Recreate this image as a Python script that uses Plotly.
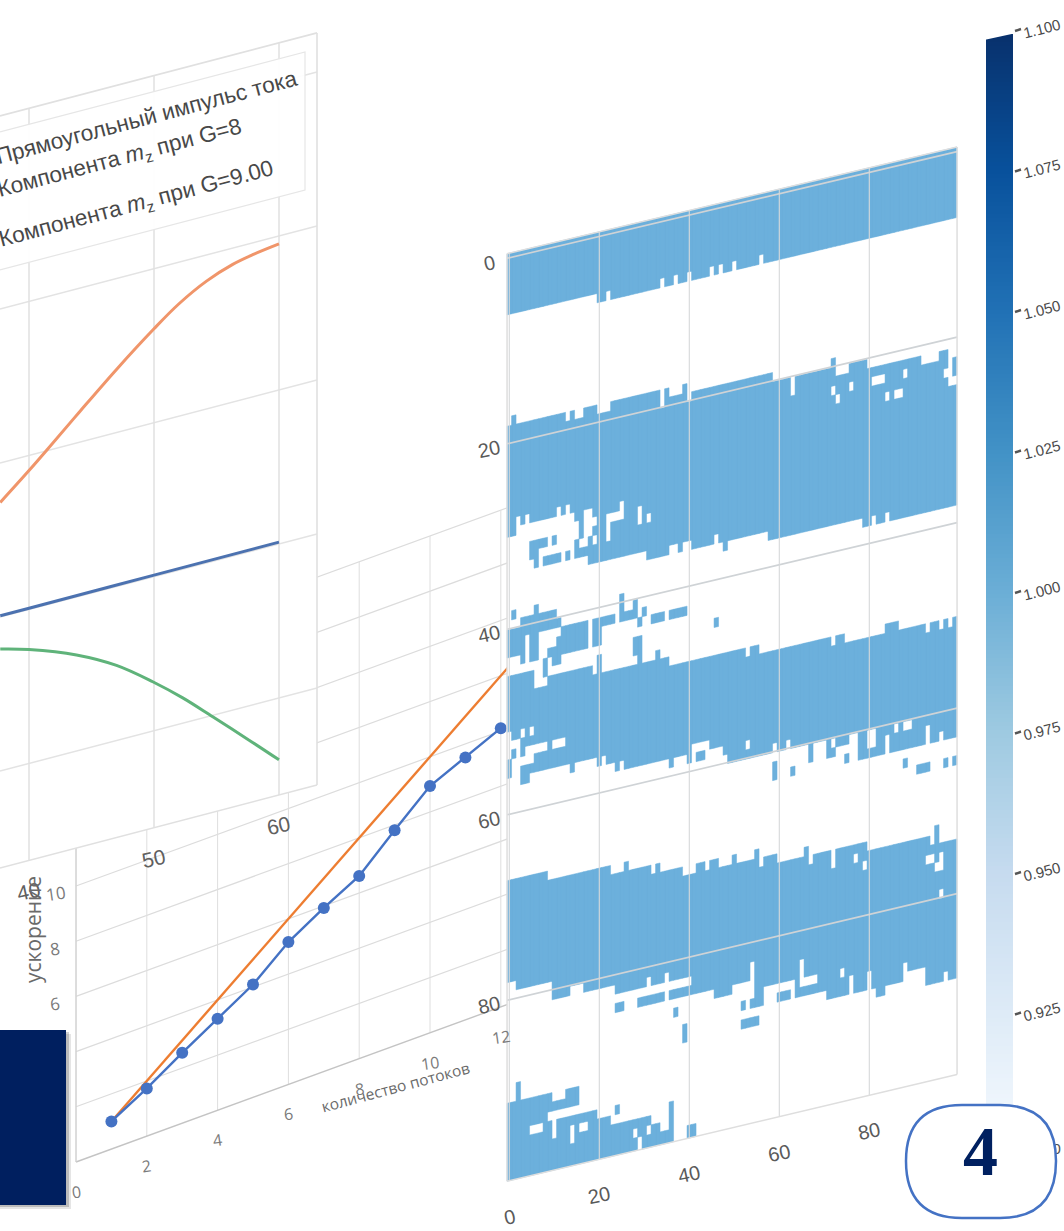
import numpy as np
import plotly.graph_objects as go

# ---------- data: left line chart ----------
ORANGE_X = [37.7, 40, 41.5, 44, 47, 50, 52, 54.2, 56.3, 58, 60]
ORANGE_V = [-0.128, -0.049, 0.005, 0.097, 0.205, 0.305, 0.365, 0.415, 0.447, 0.462, 0.474]
BLUE_X = [37.7, 40, 50, 60]
BLUE_V = [-0.496, -0.496, -0.495, -0.494]
GREEN_X = [37.7, 40, 43.8, 47, 49.9, 52.3, 54.7, 57.7, 60]
GREEN_V = [-0.604, -0.630, -0.688, -0.756, -0.840, -0.918, -1.005, -1.115, -1.201]
P1_XTICKS = [40, 50, 60]
P1_VGRID = [1.0, 0.5, 0.0, -0.5, -1.0]
LEGEND_LINES = ["Прямоугольный импульс тока",
                "Компонента <i>m</i><sub>z</sub> при G=8",
                "Компонента <i>m</i><sub>z</sub> при G=9.00"]

# ---------- data: speed-up chart ----------
THREADS = [1, 2, 3, 4, 5, 6, 7, 8, 9, 10, 11, 12]
SPEEDUP = [1.0, 1.73, 2.55, 3.32, 4.09, 5.16, 5.93, 6.62, 7.81, 8.94, 9.51, 10.1]
IDEAL_T = [1, 13]
IDEAL_S = [1, 13]
P2_XTICKS = [0, 2, 4, 6, 8, 10, 12]
P2_YGRID = [2, 4, 6, 8, 10, 12, 14, 16, 18]
P2_YLABELS = [6, 8, 10]

# ---------- data: heat map (row-edge runs per column: first col, last col, edge) ----------
A_TOP = [(0, 99, -1)]
A_BOT = [(0, 19, 6), (20, 21, 7), (22, 22, 6), (23, 33, 7), (34, 34, 6), (35, 36, 7), (37, 37, 6),
         (38, 39, 7), (40, 40, 6), (41, 44, 7), (45, 45, 6), (46, 46, 7), (47, 47, 6), (48, 49, 7),
         (50, 50, 6), (51, 55, 7), (56, 56, 6), (57, 99, 7)]
B_TOP = [(0, 0, 18), (1, 1, 17), (2, 12, 18), (13, 13, 19), (14, 14, 18), (15, 16, 19), (17, 19, 18),
         (20, 22, 19), (23, 33, 18), (34, 34, 20), (35, 35, 18), (36, 38, 19), (39, 39, 18), (40, 40, 20),
         (41, 58, 19), (59, 71, 20), (72, 72, 19), (73, 75, 21), (76, 79, 20), (80, 91, 21), (92, 95, 22),
         (96, 97, 21), (98, 98, 25), (99, 99, 22)]
B_BOT = [(0, 1, 30), (2, 2, 28), (3, 3, 29), (4, 4, 28), (5, 10, 29), (11, 11, 28), (12, 12, 29),
         (13, 13, 28), (14, 14, 29), (15, 15, 30), (16, 16, 32), (17, 18, 29), (19, 19, 30), (20, 30, 35),
         (31, 35, 36), (36, 37, 35), (38, 38, 36), (39, 40, 35), (41, 45, 36), (46, 46, 35), (47, 47, 36),
         (48, 48, 37), (49, 57, 36), (58, 78, 37), (79, 80, 38), (81, 81, 37), (82, 83, 38), (84, 84, 37),
         (85, 99, 38)]
C_TOP = [(0, 5, 45), (6, 8, 47), (9, 18, 46), (19, 19, 47), (20, 20, 45), (21, 32, 47), (33, 33, 46),
         (34, 35, 47), (36, 52, 48), (53, 53, 49), (54, 55, 48), (56, 71, 49), (72, 72, 50), (73, 74, 49),
         (75, 83, 50), (84, 86, 49), (87, 92, 50), (93, 93, 51), (94, 95, 50), (96, 96, 51), (97, 97, 50),
         (98, 98, 51), (99, 99, 50)]
C_BOT = [(0, 0, 56), (1, 2, 54), (3, 4, 57), (5, 13, 56), (14, 14, 57), (15, 19, 56), (20, 23, 57),
         (24, 39, 58), (40, 48, 59), (49, 80, 60), (81, 99, 63)]
D_TOP = [(0, 8, 67), (9, 22, 68), (23, 25, 69), (26, 26, 68), (27, 31, 69), (32, 32, 70), (33, 33, 69),
         (34, 38, 70), (39, 41, 71), (42, 43, 70), (44, 44, 71), (45, 46, 70), (47, 49, 71), (50, 50, 70),
         (51, 54, 71), (55, 55, 70), (56, 56, 72), (57, 59, 71), (60, 65, 72), (66, 66, 71), (67, 67, 73),
         (68, 71, 72), (72, 72, 74), (73, 79, 72), (80, 93, 73), (94, 94, 74), (95, 95, 72), (96, 99, 74)]
D_BOT = [(0, 1, 78), (2, 9, 79), (10, 13, 81), (14, 16, 80), (17, 23, 81), (24, 34, 82), (35, 35, 81),
         (36, 45, 84), (46, 49, 85), (50, 54, 84), (55, 56, 87), (57, 59, 85), (60, 62, 87), (63, 63, 85),
         (64, 70, 87), (71, 79, 88), (80, 80, 86), (81, 81, 88), (82, 83, 89), (84, 87, 88), (88, 88, 86),
         (89, 92, 87), (93, 99, 89)]
E_TOP = [(0, 9, 91), (10, 12, 92), (13, 15, 91), (16, 19, 94), (20, 22, 95), (23, 31, 96), (32, 33, 97),
         (34, 35, 98), (36, 36, 95)]
E_BOT = [(0, 36, 100)]
# isolated cells: (first col, last col, first row, last row)
WHITE_CELLS = [(63, 63, 20, 21), (72, 72, 22, 22), (73, 73, 23, 23), (76, 76, 22, 22), (81, 83, 22, 22),
               (88, 88, 22, 22), (84, 84, 24, 24), (86, 87, 24, 24), (97, 97, 23, 23), (99, 99, 24, 24),
               (22, 22, 30, 32), (23, 24, 30, 30), (25, 25, 29, 30), (29, 29, 30, 31), (31, 31, 31, 31),
               (0, 0, 51, 53), (1, 2, 52, 52), (2, 2, 53, 53), (3, 3, 51, 51), (5, 5, 51, 51),
               (4, 8, 53, 53), (10, 12, 53, 53), (3, 5, 54, 54), (41, 44, 57, 57), (44, 47, 58, 58),
               (41, 41, 58, 58), (53, 53, 58, 58), (21, 21, 56, 56), (25, 25, 57, 57), (59, 59, 59, 59),
               (62, 62, 59, 59), (84, 84, 61, 62), (86, 86, 60, 60), (88, 89, 60, 60), (93, 93, 61, 62),
               (96, 96, 62, 62), (81, 81, 60, 61), (77, 77, 73, 73), (79, 79, 74, 74), (93, 94, 75, 75),
               (96, 96, 75, 76), (95, 95, 76, 76), (96, 96, 79, 79), (54, 54, 82, 83), (65, 65, 83, 84),
               (65, 68, 85, 85), (74, 74, 85, 85), (76, 76, 86, 87), (60, 62, 85, 85), (31, 31, 81, 81),
               (36, 40, 82, 82), (97, 97, 88, 88), (5, 7, 94, 94), (9, 15, 93, 93), (10, 10, 94, 95),
               (14, 14, 95, 96), (16, 17, 95, 95), (29, 29, 98, 99), (31, 31, 97, 97), (28, 28, 97, 97)]
BLUE_CELLS = [(5, 8, 31, 31), (5, 6, 32, 32), (10, 10, 31, 31), (6, 6, 33, 33), (8, 11, 33, 33), (13, 13, 33, 33),
              (15, 15, 32, 33), (16, 17, 33, 33), (18, 18, 32, 34), (19, 19, 31, 31), (19, 19, 33, 34),
              (1, 1, 38, 38), (6, 6, 38, 38), (3, 10, 39, 40), (0, 3, 40, 42), (4, 4, 40, 40), (5, 6, 40, 43),
              (3, 3, 43, 43), (11, 11, 40, 40), (9, 9, 43, 43), (8, 8, 44, 45), (11, 11, 42, 44), (10, 10, 43, 44),
              (12, 17, 41, 43), (19, 20, 41, 43), (21, 23, 41, 41), (25, 25, 39, 41), (26, 27, 41, 41),
              (28, 28, 40, 41), (30, 30, 41, 41), (29, 29, 42, 42), (32, 34, 42, 42), (36, 39, 42, 42),
              (46, 46, 44, 44), (28, 28, 44, 45), (29, 29, 44, 46), (36, 36, 58, 58),
              (67, 67, 60, 61), (71, 71, 60, 61), (73, 75, 60, 60), (72, 72, 61, 61), (75, 75, 62, 62),
              (78, 79, 60, 62), (80, 80, 62, 62), (59, 59, 61, 62), (63, 63, 62, 62), (88, 88, 64, 64),
              (91, 93, 65, 65), (97, 97, 65, 65), (99, 99, 65, 65),
              (29, 34, 83, 83), (24, 25, 83, 83), (37, 37, 85, 85), (39, 39, 87, 88), (52, 52, 86, 86),
              (54, 54, 86, 86), (52, 55, 88, 88), (2, 2, 89, 90), (24, 24, 94, 94), (40, 41, 98, 99)]
HM_TICKS = [0, 20, 40, 60, 80]
CB_TICKS = [1.100, 1.075, 1.050, 1.025, 1.000, 0.975, 0.950, 0.925]
CB_HIDDEN_TICK = 0.900
BLUES = ["#f7fbff", "#deebf7", "#c6dbef", "#9ecae1", "#6baed6", "#4292c6", "#2171b5", "#08519c", "#08306b"]

# ---------- projections of each tilted panel onto the page ----------
def p1(x, v):
    X = 29 + 12.5 * (np.asarray(x, float) - 40)
    return X, 380 - 308 * np.asarray(v, float) + 0.262 * (317 - X)

def p2(t, s):
    X = 76 + 35.4 * np.asarray(t, float)
    return X, 1162 - 27.6 * np.asarray(s, float) - 0.365 * (X - 76)

def hm(c, r):
    c = np.asarray(c, float)
    return 509.3 + 4.5 * c, 257.8 + 9.275 * np.asarray(r, float) - 1.067 * c

def cb_y(v):
    return 30 + (1.1 - v) / 0.025 * 140.5

fig = go.Figure()

def add_line(xs, ys, color, width=1.0, **kw):
    fig.add_trace(go.Scatter(x=list(xs), y=list(ys), mode="lines", showlegend=False, hoverinfo="skip",
                             line=dict(color=color, width=width), **kw))

def segs(proj, pairs):
    xs, ys = [], []
    for (a0, b0), (a1, b1) in pairs:
        X, Y = proj([a0, a1], [b0, b1])
        xs += list(X) + [None]
        ys += list(Y) + [None]
    return xs, ys

def poly(proj, a0, a1, b0, b1, color, line=None, width=0):
    X, Y = proj([a0, a1, a1, a0, a0], [b0, b0, b1, b1, b0])
    fig.add_trace(go.Scatter(x=list(X), y=list(Y), mode="lines", fill="toself", fillcolor=color,
                             showlegend=False, hoverinfo="skip",
                             line=dict(color=line or color, width=width)))

# ---------- speed-up panel ----------
T0, T1, S1 = 0, 12.3, 18
add_line(*segs(p2, [((T0, s), (T1, s)) for s in P2_YGRID]), "#dcdcdc", 1.2)
add_line(*segs(p2, [((t, 0), (t, S1)) for t in P2_XTICKS]), "#dedede", 1.0)
add_line(*segs(p2, [((T0, 0), (T1, 0))]), "#c4c4c4", 1.4)
add_line(*segs(p2, [((T0, 0), (T0, S1))]), "#d0d0d0", 1.2)
X, Y = p2(IDEAL_T, IDEAL_S)
add_line(X, Y, "#ed7d31", 2.4)
X, Y = p2(THREADS, SPEEDUP)
fig.add_trace(go.Scatter(x=X, y=Y, mode="lines+markers", showlegend=False, hoverinfo="skip",
                         line=dict(color="#4472c4", width=2.4), marker=dict(color="#4472c4", size=12)))

# ---------- line-chart panel ----------
XL, XR, VT, VB = 37.68, 63.04, 1.127, -1.315
poly(p1, XL, XR, VT, VB, "#ffffff")
add_line(*segs(p1, [((XL, v), (XR, v)) for v in P1_VGRID]), "#e3e3e3", 1.5)
add_line(*segs(p1, [((x, VT), (x, VB)) for x in P1_XTICKS]), "#e0e0e0", 1.5)
add_line(*segs(p1, [((XR, VT), (XR, VB)), ((XL, VT), (XR, VT)), ((XL, VB), (XR, VB))]), "#e0e0e0", 1.6)
for xs, vs, col, w in [(BLUE_X, BLUE_V, "#4c72b0", 3), (ORANGE_X, ORANGE_V, "#f0956a", 3), (GREEN_X, GREEN_V, "#5fb37a", 3)]:
    X, Y = p1(xs, vs)
    fig.add_trace(go.Scatter(x=X, y=Y, mode="lines", showlegend=False, hoverinfo="skip",
                             line=dict(color=col, width=w, shape="spline", smoothing=1.0)))
# legend box
LEG_XR = 305
leg_x = np.array([0.0, LEG_XR])
YT = 52 + 0.262 * (LEG_XR - leg_x)
YB = 190 + 0.262 * (LEG_XR - leg_x)
fig.add_trace(go.Scatter(x=[0, LEG_XR, LEG_XR, 0], y=[YT[0], YT[1], YB[1], YB[0]], mode="lines",
                         fill="toself", fillcolor="rgba(255,255,255,0.93)", showlegend=False, hoverinfo="skip",
                         line=dict(color="#e6e6e6", width=1.2)))

# ---------- heat map panel ----------
poly(hm, -0.5, 99.5, -0.5, 99.5, "#ffffff")
grid = np.zeros((101, 100), bool)   # row index shifted by one so that row -1 exists
for tops, bots in [(A_TOP, A_BOT), (B_TOP, B_BOT), (C_TOP, C_BOT), (D_TOP, D_BOT), (E_TOP, E_BOT)]:
    top, bot = {}, {}
    for a, b, e in tops:
        for c in range(a, b + 1):
            top[c] = e
    for a, b, e in bots:
        for c in range(a, b + 1):
            bot[c] = e
    for c in top:
        if c in bot:
            grid[top[c] + 1:bot[c] + 1, c] = True
for a, b, r0, r1 in WHITE_CELLS:
    grid[r0 + 1:r1 + 2, a:b + 1] = False
for a, b, r0, r1 in BLUE_CELLS:
    grid[r0 + 1:r1 + 2, a:b + 1] = True

xs, ys = [], []
for c in range(100):
    col = grid[:, c]
    r = 0
    while r < 101:
        if col[r]:
            s = r
            while r < 101 and col[r]:
                r += 1
            e0 = max(s - 1 + 0.1, -0.5)
            e1 = min(r - 1 + 0.1, 99.5)
            X, Y = hm([c - 0.5, c + 0.5, c + 0.5, c - 0.5, c - 0.5], [e0, e0, e1, e1, e0])
            xs += list(X) + [None]
            ys += list(Y) + [None]
        else:
            r += 1
fig.add_trace(go.Scatter(x=xs, y=ys, mode="lines", fill="toself", fillcolor="#6cb0dc", showlegend=False,
                         hoverinfo="skip", line=dict(color="#6cb0dc", width=0.5)))
add_line(*segs(hm, [((-0.5, r), (99.5, r)) for r in HM_TICKS]), "#cfd3d6", 1.6)
add_line(*segs(hm, [((c, -0.5), (c, 99.5)) for c in HM_TICKS]), "#d6d8da", 1.1)
add_line(*segs(hm, [((-0.5, -0.5), (99.5, -0.5)), ((-0.5, 99.5), (99.5, 99.5)),
                    ((-0.5, -0.5), (-0.5, 99.5)), ((99.5, -0.5), (99.5, 99.5))]), "#dedede", 1.5)

# ---------- colour bar ----------
bar_y = np.arange(36, 1152, 4.0)
bar_v = 1.1 - (bar_y - 30) / 140.5 * 0.025
fig.add_trace(go.Heatmap(x=[986, 1013], y=bar_y, z=bar_v.reshape(-1, 1), zmin=0.9, zmax=1.1,
                         colorscale=[[i / 8, c] for i, c in enumerate(BLUES)], showscale=False, hoverinfo="skip"))
tx, ty = [], []
for v in CB_TICKS:
    tx += [1015, 1021, None]
    ty += [cb_y(v) + 1, cb_y(v) - 1, None]
add_line(tx, ty, "#555555", 2.4)
fig.add_trace(go.Scatter(x=[1042], y=[cb_y(CB_HIDDEN_TICK) - 4], mode="text", text=[f"{CB_HIDDEN_TICK:.3f}"],
                         textfont=dict(size=15, color="#505050", family="Liberation Sans"),
                         showlegend=False, hoverinfo="skip"))

# ---------- text ----------
SANS = "Liberation Sans"
ann = []
def text(x, y, s, size, color="#5a5a5a", angle=-15, family=SANS, **kw):
    ann.append(dict(x=float(x), y=float(y), text=s, showarrow=False, xref="x", yref="y", textangle=angle,
                    font=dict(size=size, color=color, family=family), **kw))

for v in CB_TICKS:
    text(1042, cb_y(v) - 2, f"{v:.3f}", 15, color="#4a4a4a", angle=-14)
for r in HM_TICKS:
    X, Y = hm(-0.5, r)
    text(X - 18, Y + 5, str(r), 20, angle=-12)
for c in HM_TICKS:
    X, Y = hm(c, 99.5)
    text(X, Y + 36, str(c), 20, angle=-12)
for x in P1_XTICKS:
    X, Y = p1(x, VB)
    text(X - 1, Y + 31, str(x), 21, angle=-12, color="#606060")
for t in P2_XTICKS:
    X, Y = p2(t, 0)
    text(X, Y + 30, str(t), 16, color="#7a7a7a", angle=-8, family="Open Sans")
for s in P2_YLABELS:
    X, Y = p2(0, s)
    text(55, Y + 7, str(s), 17, color="#7a7a7a", angle=-8, family="Open Sans")
text(33, 930, "ускорение", 21, color="#6a6a6a", angle=-90, family="Open Sans")
text(395, 1087, "количество потоков", 15.5, color="#6a6a6a", angle=-15, family="Open Sans")
LEG_C = [(146, 117), (120, 159), (136, 205)]
for (cx, cy), s in zip(LEG_C, LEGEND_LINES):
    text(cx, cy, s, 22.5, color="#484848", angle=-14.8, family="Liberation Sans")
text(980, 1151, "<b>4</b>", 70, color="#002060", angle=0, family="Liberation Serif")

# ---------- decoration ----------
shapes = [
    dict(type="path", layer="above", line=dict(width=0), fillcolor="#ffffff",
         path="M 984 40 L 1014 33.5 L 1014 30 L 984 30 Z"),
    dict(type="rect", layer="above", x0=0, x1=71, y0=1034, y1=1209, fillcolor="rgba(0,0,0,0.10)", line=dict(width=0)),
    dict(type="rect", layer="above", x0=0, x1=69, y0=1032, y1=1207, fillcolor="rgba(0,0,0,0.18)", line=dict(width=0)),
    dict(type="rect", layer="above", x0=0, x1=66, y0=1030, y1=1205, fillcolor="#001f5f", line=dict(width=0)),
    dict(type="path", layer="above", fillcolor="#ffffff", line=dict(color="#4472c4", width=2.5),
         path="M 962 1105 L 1000 1105 Q 1056 1105 1056 1161 Q 1056 1218 1000 1218 L 962 1218 "
              "Q 906 1218 906 1161 Q 906 1105 962 1105 Z"),
]

fig.update_layout(
    width=1064, height=1231, margin=dict(l=0, r=0, t=0, b=0), autosize=False,
    paper_bgcolor="white", plot_bgcolor="white", showlegend=False, annotations=ann, shapes=shapes,
    xaxis=dict(range=[0, 1064], visible=False, fixedrange=True),
    yaxis=dict(range=[1231, 0], visible=False, fixedrange=True),
)
fig.write_html("out.html", config=dict(displayModeBar=False),
               post_script="document.body.style.margin='0';document.body.style.overflow='hidden';")
